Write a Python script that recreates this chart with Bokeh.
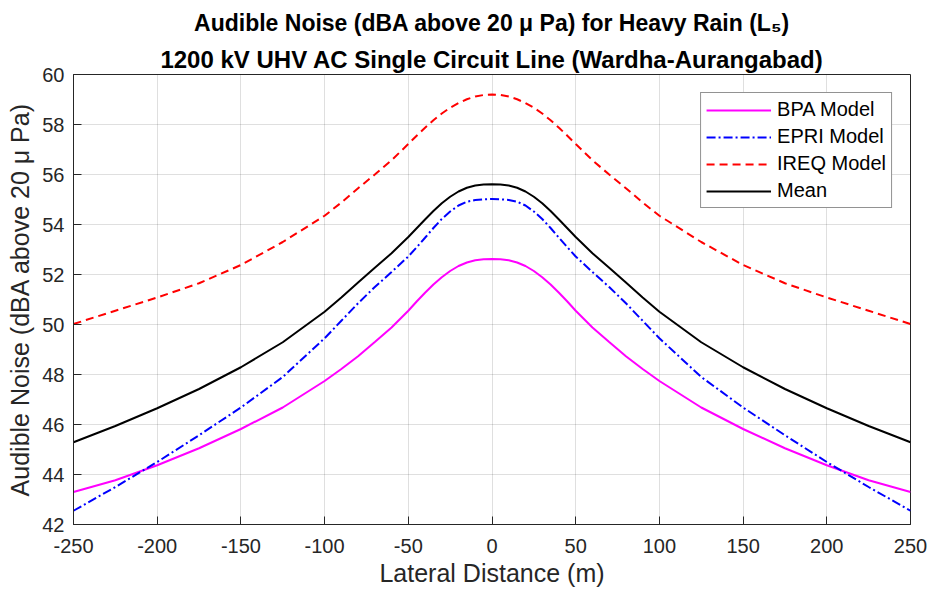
from bokeh.plotting import figure
from bokeh.models import (ColumnDataSource, Title, FixedTicker, Range1d, Legend, LegendItem)
from bokeh.embed import file_html
from bokeh.resources import INLINE

# Lateral distance (m)
x = [-250, -225, -200, -175, -150, -125, -100, -90, -80, -70, -60, -50, -45, -40, -35, -30, -25, -20, -15, -10, -5, 0,
     5, 10, 15, 20, 25, 30, 35, 40, 45, 50, 60, 70, 80, 90, 100, 125, 150, 175, 200, 225, 250]
bpa = [43.30, 43.77, 44.37, 45.05, 45.82, 46.68, 47.74, 48.22, 48.73, 49.30, 49.88, 50.55, 50.92, 51.27, 51.60,
       51.89, 52.14, 52.34, 52.48, 52.57, 52.61, 52.62,
       52.61, 52.57, 52.48, 52.34, 52.14, 51.89, 51.60, 51.27, 50.92, 50.55, 49.88, 49.30, 48.73, 48.22, 47.74,
       46.68, 45.82, 45.05, 44.37, 43.77, 43.30]
epri = [42.55, 43.50, 44.50, 45.57, 46.68, 47.90, 49.45, 50.15, 50.85, 51.50, 52.10, 52.72, 53.09, 53.47, 53.86,
        54.22, 54.52, 54.76, 54.91, 54.98, 55.01, 55.02,
        55.01, 54.98, 54.91, 54.76, 54.52, 54.22, 53.86, 53.47, 53.09, 52.72, 52.10, 51.50, 50.85, 50.15, 49.45,
        47.90, 46.68, 45.57, 44.50, 43.50, 42.55]
ireq = [50.02, 50.55, 51.08, 51.65, 52.38, 53.30, 54.35, 54.88, 55.45, 56.00, 56.57, 57.22, 57.55, 57.87, 58.17,
        58.44, 58.67, 58.86, 59.01, 59.12, 59.18, 59.20,
        59.18, 59.12, 59.01, 58.86, 58.67, 58.44, 58.17, 57.87, 57.55, 57.22, 56.57, 56.00, 55.45, 54.88, 54.35,
        53.30, 52.38, 51.65, 51.08, 50.55, 50.02]
mean = [45.29, 45.94, 46.65, 47.42, 48.29, 49.29, 50.51, 51.08, 51.68, 52.27, 52.85, 53.50, 53.85, 54.20, 54.54,
        54.85, 55.11, 55.32, 55.47, 55.56, 55.60, 55.61,
        55.60, 55.56, 55.47, 55.32, 55.11, 54.85, 54.54, 54.20, 53.85, 53.50, 52.85, 52.27, 51.68, 51.08, 50.51,
        49.29, 48.29, 47.42, 46.65, 45.94, 45.29]

x_ticks = [-250, -200, -150, -100, -50, 0, 50, 100, 150, 200, 250]
y_ticks = [42, 44, 46, 48, 50, 52, 54, 56, 58, 60]

FONT = "Liberation Sans"
AX = "#262626"

src = ColumnDataSource(dict(x=x, bpa=bpa, epri=epri, ireq=ireq, mean=mean))

p = figure(width=930, height=594, output_backend="svg", toolbar_location=None,
           x_range=Range1d(-250, 250), y_range=Range1d(42, 60),
           min_border_left=73, min_border_right=20, min_border_bottom=70, min_border_top=73)
p.title = None
p.outline_line_color = AX
p.outline_line_width = 1

r1 = p.line("x", "bpa", source=src, line_color="#FF00FF", line_width=2)
r2 = p.line("x", "epri", source=src, line_color="#0000FF", line_width=2, line_dash="9 3 2 3")
r3 = p.line("x", "ireq", source=src, line_color="#FF0000", line_width=2, line_dash="8 5")
r4 = p.line("x", "mean", source=src, line_color="#000000", line_width=2)

for ax in p.xaxis:
    ax.ticker = FixedTicker(ticks=x_ticks)
    ax.major_label_overrides = {t: str(t) for t in x_ticks}
for ax in p.yaxis:
    ax.ticker = FixedTicker(ticks=y_ticks)
    ax.major_label_overrides = {t: str(t) for t in y_ticks}

for ax in list(p.xaxis) + list(p.yaxis):
    ax.axis_line_color = AX
    ax.major_tick_line_color = AX
    ax.major_tick_in = 8
    ax.major_tick_out = 0
    ax.minor_tick_line_color = None
    ax.major_label_text_font = FONT
    ax.major_label_text_font_size = "20px"
    ax.major_label_text_color = AX
    ax.axis_label_text_font = FONT
    ax.axis_label_text_font_size = "25px"
    ax.axis_label_text_font_style = "normal"
    ax.axis_label_text_color = AX

p.xaxis.axis_label = "Lateral Distance (m)"
p.yaxis.axis_label = "Audible Noise (dBA above 20 \u03bc Pa)"
p.xaxis.major_label_standoff = 14
p.yaxis.major_label_standoff = 9
p.xaxis.axis_label_standoff = 3
p.yaxis.axis_label_standoff = 5

p.grid.grid_line_color = AX
p.grid.grid_line_alpha = 0.15
p.xgrid.ticker = FixedTicker(ticks=x_ticks)
p.ygrid.ticker = FixedTicker(ticks=y_ticks)

p.add_layout(Title(text="1200 kV UHV AC Single Circuit Line (Wardha-Aurangabad)", align="center",
                   text_font=FONT, text_font_size="24px", text_font_style="bold",
                   text_color="#000000", standoff=3), "above")
p.add_layout(Title(text="Audible Noise (dBA above 20 \u03bc Pa) for Heavy Rain (L\u2085)", align="center",
                   text_font=FONT, text_font_size="23px", text_font_style="bold",
                   text_color="#000000", standoff=14), "above")

legend = Legend(items=[
    LegendItem(label="BPA Model", renderers=[r1]),
    LegendItem(label="EPRI Model", renderers=[r2]),
    LegendItem(label="IREQ Model", renderers=[r3]),
    LegendItem(label="Mean", renderers=[r4]),
], location="top_right")
legend.label_text_font = FONT
legend.label_text_font_size = "20px"
legend.label_text_color = "#000000"
legend.glyph_width = 65
legend.glyph_height = 20
legend.label_height = 20
legend.spacing = 4
legend.padding = 5
legend.margin = 18
legend.border_line_color = AX
legend.border_line_width = 1
legend.background_fill_color = "white"
legend.background_fill_alpha = 1
legend.label_standoff = 6
p.add_layout(legend, "center")

open("out.html", "w").write(file_html(p, INLINE))
